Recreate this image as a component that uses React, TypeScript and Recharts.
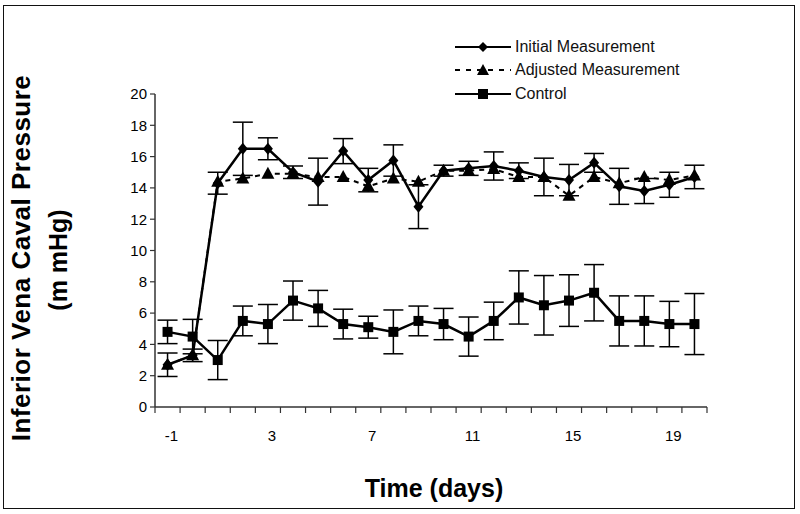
import React from 'react';
import { LineChart, Line, XAxis, YAxis, ErrorBar } from 'recharts';

const days = [-1, 0, 1, 2, 3, 4, 5, 6, 7, 8, 9, 10, 11, 12, 13, 14, 15, 16, 17, 18, 19, 20];
const dayLabels = [-1, 3, 7, 11, 15, 19];
const pressureTicks = [0, 2, 4, 6, 8, 10, 12, 14, 16, 18, 20];

const initialMean = [2.7, 3.3, 14.3, 16.5, 16.5, 15.0, 14.4, 16.35, 14.5, 15.75, 12.8, 15.1, 15.25, 15.4, 15.1, 14.7, 14.5, 15.6, 14.1, 13.8, 14.2, 14.7];
const initialErr = [0.75, 0.4, 0.7, 1.7, 0.7, 0.4, 1.5, 0.8, 0.75, 1.0, 1.4, 0.35, 0.45, 0.9, 0.5, 1.2, 1.0, 0.6, 1.15, 0.8, 0.8, 0.75];
const adjustedMean = [2.7, 3.3, 14.4, 14.6, 14.9, 14.9, 14.7, 14.7, 14.1, 14.6, 14.4, 15.1, 15.1, 15.2, 14.7, 14.7, 13.5, 14.7, 14.3, 14.7, 14.5, 14.8];
const controlMean = [4.8, 4.5, 3.0, 5.5, 5.3, 6.8, 6.3, 5.3, 5.1, 4.8, 5.5, 5.3, 4.5, 5.5, 7.0, 6.5, 6.8, 7.3, 5.5, 5.5, 5.3, 5.3];
const controlErr = [0.75, 1.1, 1.25, 0.95, 1.25, 1.25, 1.15, 0.95, 0.7, 1.4, 0.95, 1.0, 1.25, 1.2, 1.7, 1.9, 1.65, 1.8, 1.6, 1.6, 1.45, 1.95];

const data = days.map((day, i) => ({
  day,
  initial: initialMean[i],
  initialErr: initialErr[i],
  adjusted: adjustedMean[i],
  control: controlMean[i],
  controlErr: controlErr[i],
}));

// tick marks sit between the days (category style), labels sit on the days
const boundaries = [...days.map((d) => d - 0.5), days[days.length - 1] + 0.5];
const xTicks = [...boundaries, ...dayLabels].sort((a, b) => a - b);
const xDomain: [number, number] = [boundaries[0], boundaries[boundaries.length - 1]];

const FONT = '"Liberation Sans", Arial, sans-serif';
const AXIS = '#333';

const DayTick = (props: any) => {
  const { x, y, payload } = props;
  const v = payload.value;
  if (dayLabels.includes(v)) {
    return (
      <text x={x + 4} y={y + 34} textAnchor="middle" fontSize={15} fontFamily={FONT} fill="#000">
        {v}
      </text>
    );
  }
  return <line x1={x} y1={y} x2={x} y2={y + 6} stroke={AXIS} strokeWidth={1.2} />;
};

const Diamond = (props: any) => {
  const { cx, cy, index } = props;
  if (cx == null || cy == null) return <g key={index} />;
  const r = 6;
  return <polygon key={index} points={`${cx},${cy - r} ${cx + r - 1},${cy} ${cx},${cy + r} ${cx - r + 1},${cy}`} fill="#000" />;
};

const Triangle = (props: any) => {
  const { cx, cy, index } = props;
  if (cx == null || cy == null) return <g key={index} />;
  return <polygon key={index} points={`${cx},${cy - 7} ${cx + 6.5},${cy + 5} ${cx - 6.5},${cy + 5}`} fill="#000" />;
};

const Square = (props: any) => {
  const { cx, cy, index } = props;
  if (cx == null || cy == null) return <g key={index} />;
  return <rect key={index} x={cx - 5} y={cy - 5} width={10} height={10} fill="#000" />;
};

function LegendRow({ label, dashed, marker }: { label: string; dashed?: boolean; marker: React.ReactNode }) {
  return (
    <div style={{ display: 'flex', alignItems: 'center', height: 23.5 }}>
      <svg width={60} height={14} style={{ marginRight: 2 }}>
        <line x1={2} y1={7} x2={58} y2={7} stroke="#000" strokeWidth={2} strokeDasharray={dashed ? '5 6' : undefined} />
        {marker}
      </svg>
      <span>{label}</span>
    </div>
  );
}

export default function App() {
  return (
    <div style={{ position: 'absolute', left: 0, top: 0, width: 800, height: 514, background: '#fff', fontFamily: FONT }}>
      <LineChart width={800} height={514} data={data} margin={{ top: 94, right: 93, bottom: 67, left: 0 }}>
        <XAxis
          type="number"
          dataKey="day"
          domain={xDomain}
          allowDataOverflow
          ticks={xTicks}
          interval={0}
          tick={DayTick}
          tickLine={false}
          tickSize={0}
          tickMargin={0}
          height={40}
          axisLine={{ stroke: AXIS, strokeWidth: 1.5 }}
        />
        <YAxis
          type="number"
          domain={[0, 20]}
          ticks={pressureTicks}
          width={155}
          tickSize={5}
          tickMargin={3}
          axisLine={{ stroke: AXIS, strokeWidth: 1.5 }}
          tickLine={{ stroke: AXIS, strokeWidth: 1.2 }}
          tick={{ fill: '#000', fontSize: 15, fontFamily: FONT }}
        />
        <Line
          dataKey="adjusted"
          stroke="#000"
          strokeWidth={2}
          strokeDasharray="5 5"
          dot={Triangle}
          activeDot={false}
          isAnimationActive={false}
        />
        <Line
          dataKey="initial"
          stroke="#000"
          strokeWidth={2.5}
          dot={Diamond}
          activeDot={false}
          isAnimationActive={false}
        >
          <ErrorBar dataKey="initialErr" direction="y" width={10} stroke="#000" strokeWidth={1.5} />
        </Line>
        <Line
          dataKey="control"
          stroke="#000"
          strokeWidth={2.5}
          dot={Square}
          activeDot={false}
          isAnimationActive={false}
        >
          <ErrorBar dataKey="controlErr" direction="y" width={10} stroke="#000" strokeWidth={1.5} />
        </Line>
      </LineChart>

      <svg width={800} height={514} style={{ position: 'absolute', left: 0, top: 0, pointerEvents: 'none' }}>
        <text transform="translate(30,258) rotate(-90)" textAnchor="middle" fontSize={26} letterSpacing={0.5} fontWeight="bold" fontFamily={FONT} fill="#000">
          Inferior Vena Caval Pressure
        </text>
        <text transform="translate(67,260) rotate(-90)" textAnchor="middle" fontSize={25} fontWeight="bold" fontFamily={FONT} fill="#000">
          (m mHg)
        </text>
        <text x={434} y={497} textAnchor="middle" fontSize={25} fontWeight="bold" fontFamily={FONT} fill="#000">
          Time (days)
        </text>
      </svg>

      <div style={{ position: 'absolute', left: 453, top: 35, fontSize: 16, color: '#111', lineHeight: 1 }}>
        <LegendRow label="Initial Measurement" marker={<polygon points="30,2 35,7 30,12 25,7" fill="#000" />} />
        <LegendRow label="Adjusted Measurement" dashed marker={<polygon points="30,1 36,12 24,12" fill="#000" />} />
        <LegendRow label="Control" marker={<rect x={25} y={2} width={10} height={10} fill="#000" />} />
      </div>

      <div style={{ position: 'absolute', left: 3, top: 5, width: 792, height: 504, border: '1.5px solid #111', boxSizing: 'border-box', pointerEvents: 'none' }} />
    </div>
  );
}
